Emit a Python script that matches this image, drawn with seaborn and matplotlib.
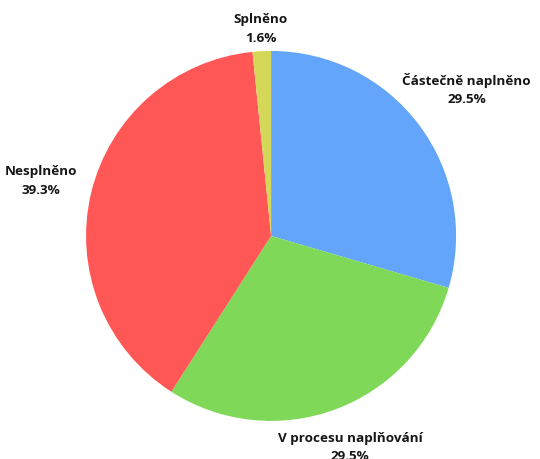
import numpy as np
import matplotlib
matplotlib.use("Agg")
import matplotlib.pyplot as plt
import seaborn as sns

categories = ["Částečně naplněno", "V procesu naplňování", "Nesplněno", "Splněno"]
shares = [29.5, 29.5, 39.3, 1.6]
colors = ["#62A5FA", "#7FD858", "#FF5656", "#D4D757"]
label_dist = [1.32, 1.22, 1.28, 1.12]

sns.set_theme(style="white")
plt.rcParams["font.family"] = ["Open Sans", "DejaVu Sans"]

fig = plt.figure(figsize=(5.4, 4.59), dpi=100)
ax = fig.add_axes([0.502 - 0.3426, 0.486 - 0.403, 0.6852, 0.806])

wedges, _ = ax.pie(shares, colors=colors, startangle=90, counterclock=False,
                   wedgeprops=dict(linewidth=0))

# labels at each wedge's mid-angle
for w, name, val, d in zip(wedges, categories, shares, label_dist):
    mid = np.deg2rad((w.theta1 + w.theta2) / 2)
    ax.text(d * np.cos(mid), d * np.sin(mid), f"{name}\n{val:.1f}%",
            ha="center", va="center", fontsize=9.7, fontweight="bold",
            color="#161616", linespacing=1.55)

ax.set_xlim(-1, 1)
ax.set_ylim(-1, 1)
ax.set_aspect("auto")
ax.axis("off")

fig.savefig("out.png", dpi=100)
